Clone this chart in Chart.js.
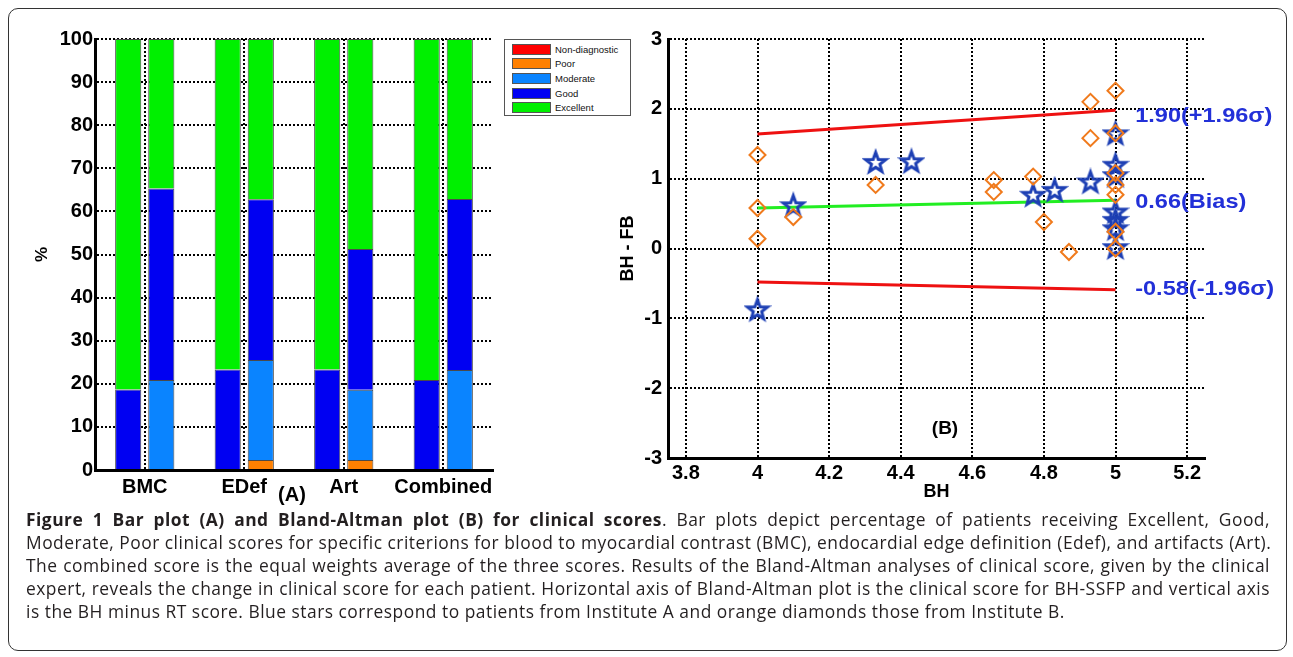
<!DOCTYPE html>
<html>
<head>
<meta charset="utf-8">
<script src="https://cdn.jsdelivr.net/npm/chart.js@4.4.0/dist/chart.umd.min.js"></script>
<style>
  body { margin: 0; background: #fff; width: 1293px; height: 657px; position: relative; overflow: hidden; }
  #frame { position: absolute; left: 8px; top: 8px; width: 1277px; height: 641px; border: 1px solid #333; border-radius: 10px; }
  canvas { position: absolute; }
  #barChart { left: 20px; top: 20px; }
  #baChart { left: 600px; top: 20px; }
  .tag { position: absolute; font: bold 20px "Liberation Sans", Arial, sans-serif; color: #000; transform: translate(-50%, -50%); }
  #legend { position: absolute; left: 504px; top: 39px; width: 127px; height: 77px; border: 1px solid #555; box-sizing: border-box; padding-top: 2px; }
  .lg-row { height: 14.6px; display: flex; align-items: center; font: 9.5px "Liberation Sans", Arial, sans-serif; color: #111; }
  .lg-swatch { width: 37px; height: 9px; border: 1px solid #555; margin: 0 4px 0 7px; }
  #caption { position: absolute; left: 26px; top: 508px; width: 1244px; font-family: "Open Sans", sans-serif; font-size: 17.4px; letter-spacing: 0.5px; color: #231f20; }
  .ln { line-height: 23px; white-space: nowrap; text-align: justify; text-align-last: justify; }
  .ln.last { text-align-last: left; }
</style>
</head>
<body>
<div id="frame"></div>
<canvas id="barChart" width="480" height="490"></canvas>
<div id="legend"></div>
<canvas id="baChart" width="690" height="485"></canvas>
<div class="tag" style="left:292px; top:494px;">(A)</div>
<div class="tag" style="left:945px; top:428px; font-size:19px;">(B)</div>
<div id="caption">
  <div class="ln"><b>Figure 1 Bar plot (A) and Bland-Altman plot (B) for clinical scores</b>. Bar plots depict percentage of patients receiving Excellent, Good,</div>
  <div class="ln">Moderate, Poor clinical scores for specific criterions for blood to myocardial contrast (BMC), endocardial edge definition (Edef), and artifacts (Art).</div>
  <div class="ln">The combined score is the equal weights average of the three scores. Results of the Bland-Altman analyses of clinical score, given by the clinical</div>
  <div class="ln">expert, reveals the change in clinical score for each patient. Horizontal axis of Bland-Altman plot is the clinical score for BH-SSFP and vertical axis</div>
  <div class="ln last">is the BH minus RT score. Blue stars correspond to patients from Institute A and orange diamonds those from Institute B.</div>
</div>
<script>
// (A) bar plot: % of patients per score class
const categories = ["BMC", "EDef", "Art", "Combined"];
const scoreClasses = ["Non-diagnostic", "Poor", "Moderate", "Good", "Excellent"];
const scoreColors = ["#ff0000", "#ff8000", "#0a84ff", "#0000f2", "#00f000"];

// left bar of each pair
const bhGood = [18.7, 23.3, 23.3, 20.9];
const bhExcellent = [81.3, 76.7, 76.7, 79.1];
// right bar of each pair
const rtNonDiagnostic = [0, 0, 0, 0];
const rtPoor = [0, 2.3, 2.3, 0];
const rtModerate = [20.9, 23.2, 16.3, 23.2];
const rtGood = [44.4, 37.3, 32.7, 39.7];
const rtExcellent = [34.7, 37.2, 48.7, 37.1];

// (B) Bland-Altman plot
const bhTicks = [3.8, 4, 4.2, 4.4, 4.6, 4.8, 5, 5.2];
const diffTicks = [-3, -2, -1, 0, 1, 2, 3];
const instAx = [4.0, 4.1, 4.33, 4.43, 4.77, 4.83, 4.93, 5.0, 5.0, 5.0, 5.0, 5.0, 5.0, 5.0];
const instAy = [-0.87, 0.62, 1.24, 1.25, 0.77, 0.84, 0.96, 1.65, 1.2, 1.05, 0.53, 0.41, 0.29, 0.02];
const instBx = [4.0, 4.0, 4.0, 4.1, 4.33, 4.66, 4.66, 4.77, 4.8, 4.87, 4.93, 4.93, 5.0, 5.0, 5.0, 5.0, 5.0, 5.0, 5.0];
const instBy = [1.34, 0.58, 0.14, 0.45, 0.91, 0.98, 0.81, 1.03, 0.38, -0.05, 2.1, 1.58, 2.26, 1.65, 1.08, 0.91, 0.77, 0.24, 0.0];
const limitX = [4, 5];
const upperY = [1.64, 1.98];
const biasY = [0.58, 0.69];
const lowerY = [-0.48, -0.59];
const limitValues = [1.90, 0.66, -0.58];
const limitLabels = ["1.90(+1.96σ)", "0.66(Bias)", "-0.58(-1.96σ)"];
const limitLabelX = 5.055;

Chart.defaults.font.family = '"Liberation Sans", Arial, sans-serif';
Chart.defaults.color = "#000";
Chart.defaults.animation = false;

const dotGrid = { color: "#000", lineWidth: 2, drawTicks: false };
const axisBorder = { display: true, color: "#000", width: 3, dash: [2, 2] };
const tickFont = { size: 20, weight: "bold" };

// legend box
document.getElementById("legend").innerHTML = scoreClasses
  .map(
    (name, i) => `
      <div class="lg-row">
        <div class="lg-swatch" style="background:${scoreColors[i]}"></div>${name}
      </div>`
  )
  .join("");

function barSet(label, data, stack) {
  return {
    label: label,
    data: data,
    stack: stack,
    backgroundColor: scoreColors[scoreClasses.indexOf(label)],
    borderColor: "#4a4a4a",
    borderWidth: 1,
    categoryPercentage: 0.665,
    barPercentage: 0.79,
  };
}

new Chart(document.getElementById("barChart"), {
  type: "bar",
  data: {
    labels: categories,
    datasets: [
      barSet("Good", bhGood, "bh"),
      barSet("Excellent", bhExcellent, "bh"),
      Object.assign(barSet("Non-diagnostic", rtNonDiagnostic, "rt"), { borderWidth: 0 }),
      barSet("Poor", rtPoor, "rt"),
      barSet("Moderate", rtModerate, "rt"),
      barSet("Good", rtGood, "rt"),
      barSet("Excellent", rtExcellent, "rt"),
    ],
  },
  options: {
    responsive: false,
    layout: { padding: { left: 0, top: 19, right: 7, bottom: 0 } },
    plugins: { legend: { display: false }, tooltip: { enabled: false } },
    scales: {
      x: {
        stacked: true,
        grid: Object.assign({ offset: false }, dotGrid),
        border: axisBorder,
        ticks: { font: tickFont, padding: 5, maxRotation: 0, minRotation: 0, autoSkip: false },
        afterFit: (s) => { s.height = 40; },
      },
      y: {
        stacked: true,
        min: 0,
        max: 100,
        ticks: { stepSize: 10, font: tickFont, padding: 2 },
        grid: dotGrid,
        border: axisBorder,
        title: { display: true, text: "%", font: { size: 17, weight: "bold" }, padding: { top: 12 } },
        afterFit: (s) => { s.width = 75; },
      },
    },
  },
});

// hollow five-point star marker
function makeStar(color) {
  const c = document.createElement("canvas");
  c.width = 28;
  c.height = 28;
  const g = c.getContext("2d");
  g.beginPath();
  for (let i = 0; i < 10; i++) {
    const r = i % 2 ? 4.4 : 10.6;
    const a = -Math.PI / 2 + (i * Math.PI) / 5;
    g.lineTo(14 + r * Math.cos(a), 15 + r * Math.sin(a));
  }
  g.closePath();
  g.lineJoin = "miter";
  g.lineWidth = 3;
  g.strokeStyle = color;
  g.stroke();
  return c;
}

function pairs(xs, ys) {
  return xs.map((x, i) => ({ x: x, y: ys[i] }));
}

function limitLine(ys, color) {
  return {
    data: pairs(limitX, ys),
    showLine: true,
    borderColor: color,
    borderWidth: 3,
    pointRadius: 0,
    order: 2,
  };
}

const limitText = {
  id: "limitText",
  afterDatasetsDraw(chart) {
    const { ctx, scales } = chart;
    ctx.save();
    ctx.font = 'bold 21px "Liberation Sans", Arial, sans-serif';
    ctx.fillStyle = "#2230d8";
    ctx.textBaseline = "middle";
    limitValues.forEach((v, i) => {
      const x = scales.x.getPixelForValue(limitLabelX);
      const y = scales.y.getPixelForValue(v);
      ctx.save();
      ctx.translate(x, y);
      ctx.scale(1.12, 1);
      ctx.fillText(limitLabels[i], 0, 0);
      ctx.restore();
    });
    ctx.restore();
  },
};

new Chart(document.getElementById("baChart"), {
  type: "scatter",
  data: {
    datasets: [
      limitLine(upperY, "#ee1111"),
      limitLine(biasY, "#22ee22"),
      limitLine(lowerY, "#ee1111"),
      {
        data: pairs(instAx, instAy),
        pointStyle: makeStar("#1d3fb4"),
        order: 1,
      },
      {
        data: pairs(instBx, instBy),
        pointStyle: "rectRot",
        pointRadius: 8,
        borderColor: "#f07a1c",
        backgroundColor: "rgba(0,0,0,0)",
        borderWidth: 2,
        order: 0,
      },
    ],
  },
  options: {
    responsive: false,
    layout: { padding: { left: 0, top: 19, right: 85, bottom: 0 } },
    plugins: { legend: { display: false }, tooltip: { enabled: false } },
    scales: {
      x: {
        type: "linear",
        min: 3.75,
        max: 5.25,
        afterBuildTicks: (s) => { s.ticks = bhTicks.map((v) => ({ value: v })); },
        ticks: { font: tickFont, padding: 3, maxRotation: 0, minRotation: 0, callback: (v) => String(Math.round(v * 10) / 10) },
        grid: dotGrid,
        border: axisBorder,
        title: { display: true, text: "BH", font: { size: 18, weight: "bold" }, padding: { top: 0, bottom: 2 } },
        afterFit: (s) => { s.height = 47; },
      },
      y: {
        min: -3,
        max: 3,
        afterBuildTicks: (s) => { s.ticks = diffTicks.map((v) => ({ value: v })); },
        ticks: { font: tickFont, padding: 6, callback: (v) => String(v) },
        grid: dotGrid,
        border: axisBorder,
        title: { display: true, text: "BH - FB", font: { size: 18, weight: "bold" }, padding: { top: 17 } },
        afterFit: (s) => { s.width = 68; },
      },
    },
  },
  plugins: [limitText],
});
</script>
</body>
</html>
